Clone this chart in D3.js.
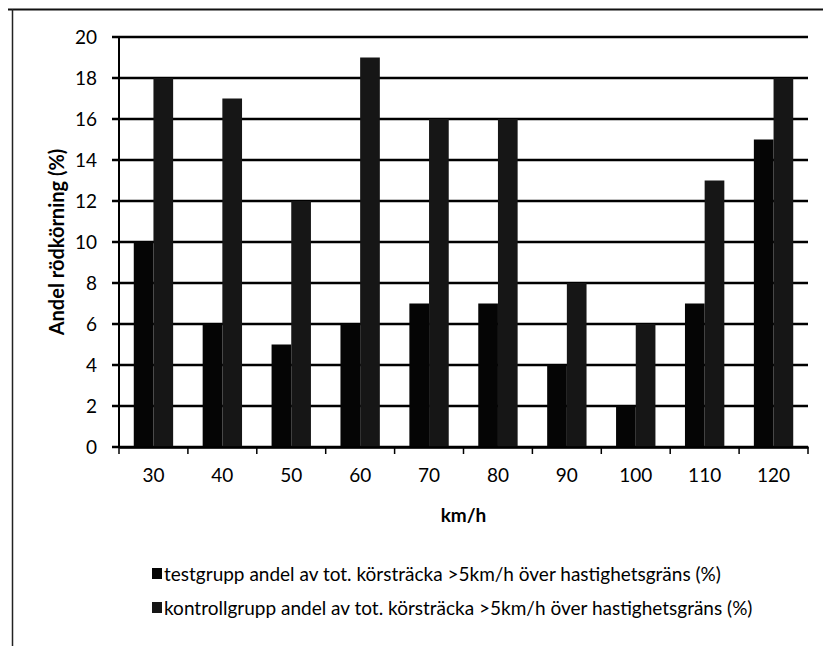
<!DOCTYPE html>
<html>
<head>
<meta charset="utf-8">
<script src="https://cdn.jsdelivr.net/npm/d3@7"></script>
<style>
  body { margin: 0; background: #fff; }
  text { font-family: Lato, "Open Sans", sans-serif; fill: #000; }
</style>
</head>
<body>
<div id="chart"></div>
<script>
// speed limits (km/h)
var categories = ["30", "40", "50", "60", "70", "80", "90", "100", "110", "120"];
// share of red driving, percent
var testValues = [10, 6, 5, 6, 7, 7, 4, 2, 7, 15];
var controlValues = [18, 17, 12, 19, 16, 16, 8, 6, 13, 18];
var yTicks = [0, 2, 4, 6, 8, 10, 12, 14, 16, 18, 20];
var seriesNames = [
	"testgrupp andel av tot. körsträcka >5km/h över hastighetsgräns (%)",
	"kontrollgrupp andel av tot. körsträcka >5km/h över hastighetsgräns (%)"
];
var seriesColors = ["#050505", "#161616"];

var W = 823, H = 646;
var margin = {top: 37, right: 15, bottom: 199, left: 119};
var width = W - margin.left - margin.right,
	height = H - margin.top - margin.bottom;

var svg = d3.select("#chart")
			.append("svg")
			.attr("width", W)
			.attr("height", H);

// outer frame (only top and left survive in the scan)
svg.append("line")
   .attr("x1", 8).attr("x2", W).attr("y1", 9.5).attr("y2", 9.5)
   .attr("stroke", "#111").attr("stroke-width", 2);
svg.append("line")
   .attr("x1", 12.5).attr("x2", 12.5).attr("y1", 9).attr("y2", H)
   .attr("stroke", "#222").attr("stroke-width", 1.5);

var g = svg.append("g")
		   .attr("transform", "translate(" + margin.left + "," + margin.top + ")");

var x0 = d3.scaleBand()
		   .domain(categories)
		   .range([0, width]);

// Excel style: gap width 150% -> each bar is 1/3.5 of the band
var barW = x0.bandwidth() / 3.5;

var y = d3.scaleLinear()
		  .domain([0, 20])
		  .range([height, 0]);

// gridlines
g.append("g")
 .selectAll("line")
 .data(yTicks)
 .enter()
 .append("line")
 .attr("x1", -7)
 .attr("x2", width)
 .attr("y1", function(d) { return y(d); })
 .attr("y2", function(d) { return y(d); })
 .attr("stroke", "#000")
 .attr("stroke-width", 2.5);

// y tick labels
g.append("g")
 .selectAll("text")
 .data(yTicks)
 .enter()
 .append("text")
 .attr("x", -22)
 .attr("y", function(d) { return y(d); })
 .attr("dy", "0.36em")
 .attr("text-anchor", "end")
 .style("font-size", "19px")
 .text(function(d) { return d; });

// bars
var series = [testValues, controlValues];
series.forEach(function(vals, si) {
	g.append("g")
	 .selectAll("rect")
	 .data(vals)
	 .enter()
	 .append("rect")
	 .attr("x", function(d, i) { return x0(categories[i]) + barW * 0.75 + si * barW; })
	 .attr("y", function(d) { return y(d); })
	 .attr("width", barW)
	 .attr("height", function(d) { return height - y(d); })
	 .attr("fill", seriesColors[si]);
});

// y axis line
g.append("line")
 .attr("x1", 0).attr("x2", 0)
 .attr("y1", 0).attr("y2", height + 1)
 .attr("stroke", "#000").attr("stroke-width", 2);

// x axis ticks between categories
var xAxis = d3.axisBottom(x0)
			  .tickSize(0)
			  .tickPadding(22);
var xg = g.append("g")
		  .attr("transform", "translate(0," + height + ")")
		  .call(xAxis);
xg.select(".domain").attr("stroke", "#000").attr("stroke-width", 2.5);
xg.selectAll("text")
  .style("font-size", "19px")
  .style("font-family", "Lato, sans-serif")
  .attr("fill", "#000");
var bounds = categories.map(function(c) { return x0(c); }).concat([width]);
xg.selectAll(".sep")
  .data(bounds)
  .enter()
  .append("line")
  .attr("class", "sep")
  .attr("x1", function(d) { return d; })
  .attr("x2", function(d) { return d; })
  .attr("y1", 0)
  .attr("y2", 7)
  .attr("stroke", "#000")
  .attr("stroke-width", 1.5);

// axis titles
svg.append("text")
   .attr("transform", "translate(64," + (margin.top + height / 2) + ") rotate(-90)")
   .attr("text-anchor", "middle")
   .style("font-size", "20px")
   .style("font-weight", "bold")
   .text("Andel rödkörning (%)");

svg.append("text")
   .attr("x", margin.left + width / 2)
   .attr("y", 522)
   .attr("text-anchor", "middle")
   .style("font-size", "19px")
   .style("font-weight", "bold")
   .text("km/h");

// legend
var legend = svg.append("g")
				.attr("transform", "translate(152,574)");
var items = legend.selectAll("g")
				  .data(seriesNames)
				  .enter()
				  .append("g")
				  .attr("transform", function(d, i) { return "translate(0," + (i * 34) + ")"; });
items.append("rect")
	 .attr("x", 0).attr("y", -6)
	 .attr("width", 10).attr("height", 11)
	 .attr("fill", function(d, i) { return seriesColors[i]; });
items.append("text")
	 .attr("x", 12)
	 .attr("y", 0)
	 .attr("dy", "0.35em")
	 .style("font-size", "19px")
	 .text(function(d) { return d; });
</script>
</body>
</html>
